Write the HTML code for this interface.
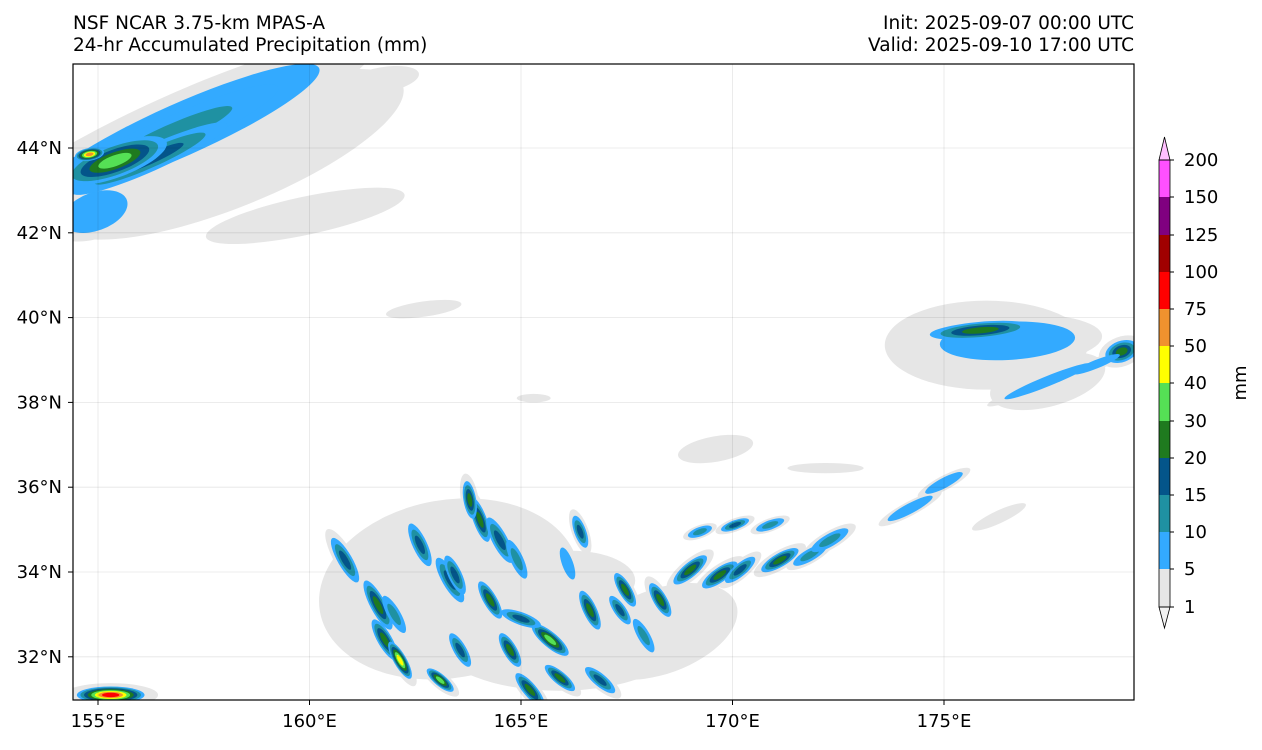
<!DOCTYPE html>
<html><head><meta charset="utf-8"><style>
body{margin:0;background:#fff;font-family:"Liberation Sans",sans-serif}
svg text{font-family:"DejaVu Sans","Liberation Sans",sans-serif;font-size:18px;fill:#000}
svg text.t{font-size:18.5px}
</style></head><body>
<svg id="c" width="1262" height="745" xmlns="http://www.w3.org/2000/svg">
<defs><clipPath id="pc"><rect x="73" y="64" width="1061" height="636"/></clipPath></defs>
<text class="t" x="73" y="29">NSF NCAR 3.75-km MPAS-A</text>
<text class="t" x="73" y="51">24-hr Accumulated Precipitation (mm)</text>
<text class="t" x="1134" y="29" text-anchor="end">Init: 2025-09-07 00:00 UTC</text>
<text class="t" x="1134" y="51" text-anchor="end">Valid: 2025-09-10 17:00 UTC</text>
<g id="marks" clip-path="url(#pc)"></g>
<g id="grid"></g>
<rect x="73" y="64" width="1061" height="636" fill="none" stroke="#000" stroke-width="1.2"/>
<g id="axes"></g>
<g id="cbar"></g>
<text transform="translate(1246,383) rotate(-90)" text-anchor="middle">mm</text>
</svg>
<script>
const lonTicks=[155,160,165,170,175];
const latTicks=[32,34,36,38,40,42,44];
const levels=[1,5,10,15,20,30,40,50,75,100,125,150,200];
const levelColors=["#e6e6e6","#33aaff","#1f91a2","#04558a","#1f7a1f","#55e055","#ffff00","#f0922e","#ff0000","#a00000","#800080","#ff50ff"];
// blobs: lon, lat, rx (deg), ry (deg), rotation, max level index
const blobLon=[158.12,159.9,161.7,156.94,154.93,156.7,156.23,155.4,154.8,
 176.0,177.45,176.5,175.86,179.2,177.45,178.6,
 163.3,165.9,168.3,162.6,166.2,
 160.84,161.62,161.78,162.14,162.61,163.32,164.03,163.79,164.50,163.44,164.27,164.74,163.56,163.09,165.21,165.69,166.63,166.40,167.46,167.34,168.29,169.0,169.70,170.18,171.12,171.83,172.30,165.92,166.87,169.23,170.06,170.89,174.2,175.0,
 162.0,164.9,165.0,167.9,166.1,
 169.6,172.2,162.7,176.3,155.3,165.3];
const blobLat=[43.85,42.4,45.6,44.42,42.5,44.3,43.75,43.7,43.85,
 39.35,38.5,39.45,39.7,39.2,38.5,38.9,
 33.6,32.3,32.6,34.6,33.8,
 34.28,33.22,32.40,31.92,34.64,33.81,35.23,35.70,34.75,33.93,33.34,32.16,32.16,31.45,31.22,32.40,33.10,34.95,33.58,33.10,33.34,34.05,33.93,34.05,34.28,34.40,34.75,31.50,31.45,34.95,35.11,35.11,35.5,36.1,
 33.0,34.3,32.9,32.5,34.2,
 36.9,36.45,40.2,35.3,31.1,38.1];
const blobRx=[4.4,2.4,0.9,3.6,0.8,2.8,2.0,1.3,0.35,
 2.4,1.4,1.6,1.2,0.4,1.1,0.6,
 3.1,2.8,1.9,1.4,1.5,
 0.6,0.65,0.55,0.5,0.55,0.6,0.55,0.45,0.6,0.5,0.5,0.45,0.45,0.4,0.5,0.55,0.5,0.4,0.45,0.4,0.45,0.5,0.5,0.45,0.5,0.45,0.5,0.45,0.45,0.3,0.35,0.35,0.6,0.5,
 0.5,0.5,0.5,0.45,0.4,
 0.9,0.9,0.9,0.7,0.8,0.4];
const blobRy=[1.25,0.45,0.3,0.62,0.45,0.42,0.3,0.4,0.15,
 1.05,0.6,0.45,0.2,0.25,0.12,0.1,
 2.1,1.1,1.0,0.9,0.7,
 0.17,0.18,0.17,0.15,0.17,0.18,0.16,0.15,0.18,0.16,0.16,0.16,0.15,0.14,0.16,0.18,0.16,0.14,0.15,0.14,0.16,0.17,0.17,0.15,0.16,0.14,0.15,0.15,0.15,0.11,0.11,0.11,0.12,0.12,
 0.15,0.15,0.15,0.14,0.13,
 0.3,0.12,0.18,0.15,0.2,0.1];
const blobRot=[-22,-12,-10,-24,-20,-24,-24,-20,-10,
 0,-15,-3,-5,-20,-22,-22,
 -10,0,-20,-30,0,
 60,62,60,60,65,60,70,80,62,65,60,60,60,40,50,40,65,70,60,55,60,-40,-35,-40,-30,-30,-30,40,40,-20,-20,-20,-28,-28,
 60,65,20,60,70,
 -10,0,-8,-25,0,0];
const blobLevel=[0,0,0,1,1,2,3,5,7,
 0,0,1,4,4,1,1,
 0,0,0,0,0,
 3,4,4,6,3,3,4,4,3,3,4,4,3,5,4,5,4,3,4,3,4,4,4,3,4,2,2,4,3,2,3,2,1,1,
 2,2,3,2,1,
 0,0,0,0,8,0];
const X=lon=>98+(lon-155)*42.3, Y=lat=>148-(lat-44)*42.4, DX=d=>d*42.3, DY=d=>d*42.4;
const NS="http://www.w3.org/2000/svg";
function mk(t,a,p){const e=document.createElementNS(NS,t);for(const k in a)e.setAttribute(k,a[k]);p.appendChild(e);return e;}
const grid=document.getElementById('grid'),axes=document.getElementById('axes'),marks=document.getElementById('marks'),cbar=document.getElementById('cbar');
lonTicks.forEach(v=>{
 const l=mk('line',{x1:X(v),x2:X(v),y1:64,y2:700,stroke:'#000','stroke-opacity':0.1,'stroke-width':0.8},grid);
 
 
 const t=mk('text',{x:X(v),y:727,'text-anchor':'middle'},axes);t.textContent=v+'°E';
 
 
 mk('line',{x1:X(v),x2:X(v),y1:700,y2:705,stroke:'#000'},axes);
});
latTicks.forEach(v=>{
 const l=mk('line',{x1:73,x2:1134,y1:Y(v),y2:Y(v),stroke:'#000','stroke-opacity':0.1,'stroke-width':0.8},grid);
 
 
 const t=mk('text',{x:62,y:Y(v)+6,'text-anchor':'end'},axes);t.textContent=v+'°N';
 
 
 mk('line',{x1:68,x2:73,y1:Y(v),y2:Y(v),stroke:'#000'},axes);
});
for(let pass=0;pass<2;pass++){
 blobLon.forEach((lon,i)=>{
  const L=blobLevel[i],cx=X(lon),cy=Y(blobLat[i]);
  const start=pass===0?0:1,end=pass===0?0:L;
  for(let k=start;k<=end;k++){
   let s;
   if(k===0) s=L===0?1:1.4; else s=1-(k-1)/(L)*0.85;
   const e=mk('ellipse',{cx:cx,cy:cy,rx:DX(blobRx[i])*s,ry:DY(blobRy[i])*s,fill:levelColors[k],transform:`rotate(${blobRot[i]} ${cx} ${cy})`},marks);
   
   
  }
 });
}
const cbY=[607,569,532,495,458,421,383,346,309,272,235,197,160];
const cx0=1159,cw=11;
for(let i=0;i<levelColors.length;i++){
 const r=mk('rect',{x:cx0,y:cbY[i+1],width:cw,height:cbY[i]-cbY[i+1],fill:levelColors[i]},cbar);
 
 
}
mk('polygon',{points:`${cx0},160 ${cx0+cw/2},137 ${cx0+cw},160`,fill:'#ffc0ff',stroke:'#000','stroke-width':0.8},cbar);
mk('polygon',{points:`${cx0},607 ${cx0+cw/2},628 ${cx0+cw},607`,fill:'#f2f2f2',stroke:'#000','stroke-width':0.8},cbar);
mk('rect',{x:cx0,y:160,width:cw,height:447,fill:'none',stroke:'#000','stroke-width':0.8},cbar);
levels.forEach((v,i)=>{
 mk('line',{x1:cx0+cw,x2:cx0+cw+4,y1:cbY[i],y2:cbY[i],stroke:'#000'},cbar);
 const t=mk('text',{x:1184,y:cbY[i]+6},cbar);t.textContent=v;
 
 
});
</script>
</body></html>
